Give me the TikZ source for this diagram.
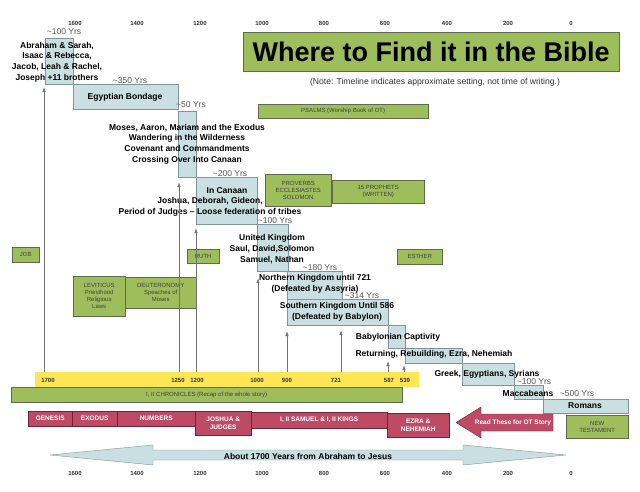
\documentclass[tikz,border=0pt]{standalone}
\usepackage{fontspec}
\setmainfont{Liberation Sans}
\usetikzlibrary{arrows.meta,positioning,calc}

\definecolor{eraBlue}{HTML}{C9DFE1}
\definecolor{eraLine}{HTML}{7F9698}
\definecolor{bookGreen}{HTML}{9DBE5A}
\definecolor{bookLine}{HTML}{5E6B4E}
\definecolor{bookRed}{HTML}{BD4B66}
\definecolor{redLine}{HTML}{6E2536}
\definecolor{barYellow}{HTML}{FCE654}
\definecolor{yrsGray}{HTML}{555555}

\begin{document}
\begin{tikzpicture}[x=1pt,y=-1pt,
  era/.style={draw=eraLine,fill=eraBlue,anchor=north west,inner sep=0pt},
  book/.style={draw=bookLine,fill=bookGreen,anchor=north west,inner sep=0pt,align=center,
    font=\fontsize{6}{7}\selectfont,text=black!75},
  redbook/.style={draw=redLine,fill=bookRed,anchor=north west,inner sep=0pt,align=center,
    font=\fontsize{6.5}{8}\selectfont\bfseries,text=white},
  story/.style={align=center,inner sep=0pt,font=\fontsize{8.5}{10.7}\selectfont\bfseries},
  yrs/.style={inner sep=0pt,font=\fontsize{8.5}{10}\selectfont,text=yrsGray},
  yearlbl/.style={inner sep=0pt,font=\fontsize{6}{6}\selectfont\bfseries,text=black!80},
  riser/.style={draw=black!55,line width=0.6pt,-{Latex[length=1.8mm,width=1.2mm]}}]
    \useasboundingbox (0,0) rectangle (640,492);
    \fill[white] (0,0) rectangle (640,492);

    % scale of years, top and bottom
    \foreach \yr/\x in {1600/75,1400/137,1200/200,1000/262,800/324,600/385,400/447,200/508,0/571} {
        \node[yearlbl] (top\yr) at (\x,23) {\yr};
        \node[yearlbl] (bot\yr) at (\x,473) {\yr};
    }

    % title
    \node[book,minimum width=376pt,minimum height=39pt,text=black,
      font=\fontsize{27}{30}\selectfont\bfseries] (title) at (243,32) {Where to Find it in the Bible};
    \node[inner sep=0pt,font=\fontsize{8.6}{10}\selectfont,text=black!80] (note) at (435,82)
      {(Note: Timeline indicates approximate setting, not time of writing.)};

    % eras of the story
    \node[era,minimum width=28pt,minimum height=46pt] (abr) at (45,38) {};
    \node[era,minimum width=105pt,minimum height=25pt] (egypt) at (73,84) {};
    \node[era,minimum width=18pt,minimum height=66pt] (moses) at (178,111) {};
    \node[era,minimum width=61pt,minimum height=47pt] (canaan) at (196,177) {};
    \node[era,minimum width=31pt,minimum height=47pt] (united) at (257,224) {};
    \node[era,minimum width=55pt,minimum height=28pt] (north) at (287,271) {};
    \node[era,minimum width=101pt,minimum height=26pt] (south) at (287,299) {};
    \node[era,minimum width=17pt,minimum height=23pt] (babyl) at (388,325) {};
    \node[era,minimum width=57pt,minimum height=15pt] (return) at (405,348) {};
    \node[era,minimum width=52pt,minimum height=22pt] (greek) at (462,363) {};
    \node[era,minimum width=29pt,minimum height=14pt] (macc) at (514,385) {};
    \node[era,minimum width=85pt,minimum height=14pt] (romans) at (543,399) {};

    \node[story] (abrtxt) at (57,62) {Abraham \& Sarah,\\Isaac \& Rebecca,\\Jacob, Leah \& Rachel,\\Joseph +11 brothers};
    \node[story] (egypttxt) at (125,97) {Egyptian Bondage};
    \node[story] (mosestxt) at (187,144) {Moses, Aaron, Mariam and the Exodus\\Wandering in the Wilderness\\Covenant and Commandments\\Crossing Over Into Canaan};
    \node[story] (canaantxt) at (227,191) {In Canaan};
    \node[story] (judgestxt) at (210,207) {Joshua, Deborah, Gideon,\\Period of Judges -- Loose federation of tribes};
    \node[story] (unitedtxt) at (272,249) {United Kingdom\\Saul, David,Solomon\\Samuel, Nathan};
    \node[story] (northtxt) at (315,284) {Northern Kingdom until 721\\(Defeated by Assyria)};
    \node[story] (southtxt) at (337,312) {Southern Kingdom Until 586\\(Defeated by Babylon)};
    \node[story] (babyltxt) at (398,337) {Babylonian Captivity};
    \node[story] (returntxt) at (434,354) {Returning, Rebuilding, Ezra, Nehemiah};
    \node[story] (greektxt) at (487,374) {Greek, Egyptians, Syrians};
    \node[story] (macctxt) at (528,393) {Maccabeans};
    \node[story] (romanstxt) at (585,406) {Romans};

    % lengths of the eras
    \node[yrs] at (64,32) {\textasciitilde100 Yrs};
    \node[yrs] at (130,81) {\textasciitilde350 Yrs};
    \node[yrs] at (191,105) {\textasciitilde50 Yrs};
    \node[yrs] at (230,174) {\textasciitilde200 Yrs};
    \node[yrs] at (275,221) {\textasciitilde100 Yrs};
    \node[yrs] at (320,268) {\textasciitilde180 Yrs};
    \node[yrs] at (362,296) {\textasciitilde314 Yrs};
    \node[yrs] at (534,382) {\textasciitilde100 Yrs};
    \node[yrs] at (577,394) {\textasciitilde500 Yrs};

    % books set beside the story
    \node[book,minimum width=170pt,minimum height=14pt] (psalms) at (258,104) {PSALMS (Worship Book of OT)};
    \node[book,minimum width=66pt,minimum height=32pt] (proverbs) at (265,174) {PROVERBS\\ECCLESIASTES\\SOLOMON};
    \node[book,minimum width=92pt,minimum height=23pt] (prophets) at (332,180) {15 PROPHETS\\(WRITTEN)};
    \node[book,minimum width=27pt,minimum height=15pt] (job) at (12,247) {JOB};
    \node[book,minimum width=32pt,minimum height=14pt] (ruth) at (187,249) {RUTH};
    \node[book,minimum width=52pt,minimum height=40pt] (levit) at (73,276) {LEVITICUS\\Priesthood\\Religious\\Laws};
    \node[book,minimum width=71pt,minimum height=31pt] (deut) at (125,277) {DEUTERONOMY\\Speaches of\\Moses};
    \node[book,minimum width=45pt,minimum height=15pt] (esther) at (397,249) {ESTHER};
    \node[book,minimum width=62pt,minimum height=23pt] (newtest) at (566,415) {NEW\\TESTAMENT};

    % dates bar and risers
    \node[anchor=north west,inner sep=0pt,fill=barYellow,minimum width=384pt,minimum height=15pt] (dates) at (35,372) {};
    \foreach \lbl/\x in {1700/48,1250/178,1200/197,1000/257,900/287,721/336,587/389,539/405}
        \node[yearlbl] (d\lbl) at (\x,380) {\lbl};
    \foreach \i/\x/\top in {1/44/87,2/179/182,3/196/228,4/258/278,5/287/331,6/341/330,7/388/361,8/404/365} {
        \coordinate (rb\i) at (\x,372);
        \coordinate (rt\i) at (\x,\top);
        \draw[riser] (rb\i) -- (rt\i);
    }
    \node[book,minimum width=391pt,minimum height=15pt] (chron) at (11,387) {I, II CHRONICLES (Recap of the whole story)};

    % books of the story
    \node[redbook,minimum width=44pt,minimum height=15pt] (gen) at (28,411) {GENESIS};
    \node[redbook,minimum width=45pt,minimum height=15pt] (exod) at (72,411) {EXODUS};
    \node[redbook,minimum width=78pt,minimum height=15pt] (numb) at (117,411) {NUMBERS};
    \node[redbook,minimum width=56pt,minimum height=24pt] (josh) at (195,411) {JOSHUA \&\\JUDGES};
    \node[redbook,minimum width=136pt,minimum height=16pt] (sam) at (251,412) {I, II SAMUEL \& I, II KINGS};
    \node[redbook,minimum width=62pt,minimum height=24pt] (ezra) at (387,413) {EZRA \&\\NEHEMIAH};

    \filldraw[fill=bookRed,draw=redLine] (456,422.5) -- (481,407) -- (481,414) -- (553,414)
        -- (553,431) -- (481,431) -- (481,438) -- cycle;
    \node[inner sep=0pt,font=\fontsize{6.5}{8}\selectfont\bfseries,text=white] (readOT) at (513,422.5) {Read These for OT Story};

    % span from Abraham to Jesus
    \filldraw[fill=eraBlue,draw=eraLine] (50,455) -- (153,445) -- (153,450) -- (463,450) -- (463,445)
        -- (566,455) -- (463,465) -- (463,460) -- (153,460) -- (153,465) -- cycle;
    \node[story] (span) at (308,456) {About 1700 Years from Abraham to Jesus};
\end{tikzpicture}
\end{document}
